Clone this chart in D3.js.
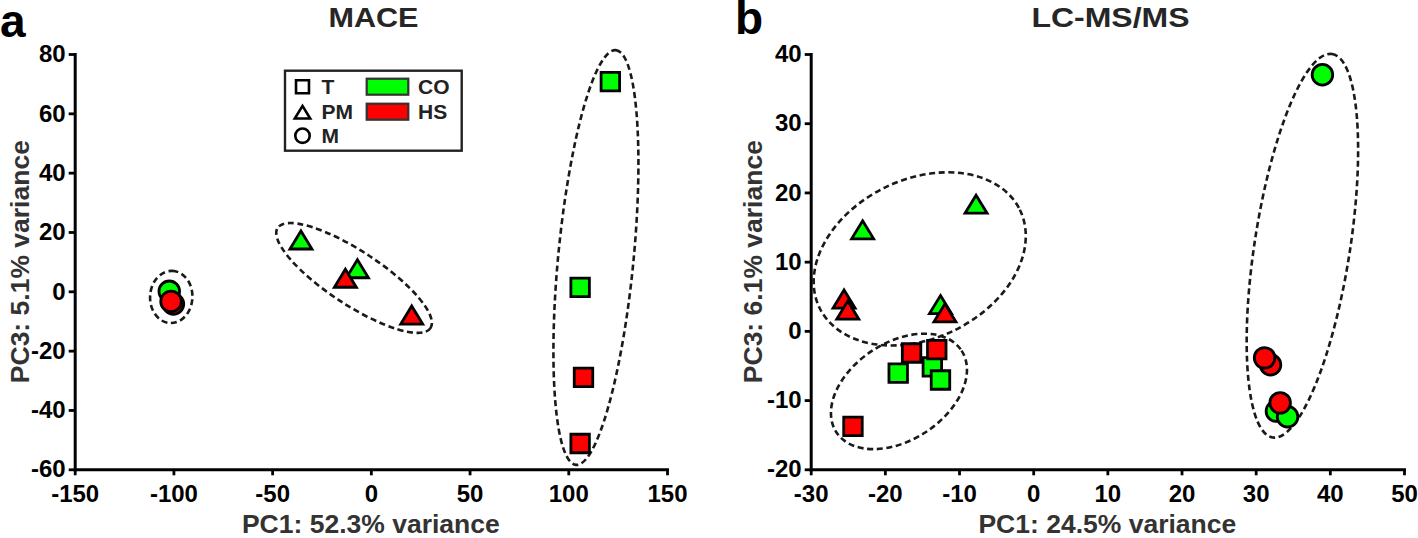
<!DOCTYPE html>
<html><head><meta charset="utf-8">
<script src="https://cdn.jsdelivr.net/npm/d3@7"></script>
<style>
body{margin:0;background:#fff;}
svg{display:block;font-family:"Liberation Sans",Arial,Helvetica,sans-serif;font-weight:bold;}
</style>
</head><body>
<svg id="chart" width="1418" height="538"></svg>
<script>
// ---------- Panel a: MACE ----------
const maceTitle = "MACE";
const maceXLabel = "PC1: 52.3% variance";
const maceYLabel = "PC3: 5.1% variance";
const maceShape = ["T","T","T","T","PM","PM","PM","PM","M","M","M"];
const maceGroup = ["CO","CO","HS","HS","CO","CO","HS","HS","HS","CO","HS"];
const macePC1   = [121.3,106.0,107.7,106.0,-35.4,-6.8,-12.9,20.7,-100.0,-102.1,-101.2];
const macePC3   = [70.7,1.3,-29.0,-51.3,17.3,7.6,4.4,-8.0,-4.3,0.0,-3.4];
const maceXTicks = [-150,-100,-50,0,50,100,150];
const maceYTicks = [-60,-40,-20,0,20,40,60,80];
// cluster ellipses: centre, end of major axis (data units), minor/major ratio
const maceEllCx = [-101.1,-8.5,114.0];
const maceEllCy = [-1.9,4.5,11.4];
const maceEllEx = [-100.5,30.2,124.1];
const maceEllEy = [6.9,-12.4,81.3];
const maceEllRatio = [0.81,0.294,0.181];

// ---------- Panel b: LC-MS/MS ----------
const lcmsTitle = "LC-MS/MS";
const lcmsXLabel = "PC1: 24.5% variance";
const lcmsYLabel = "PC3: 6.1% variance";
const lcmsShape = ["PM","PM","PM","PM","PM","PM","T","T","T","T","T","T","M","M","M","M","M","M"];
const lcmsGroup = ["CO","CO","HS","HS","CO","HS","CO","CO","HS","HS","CO","HS","CO","HS","HS","CO","CO","HS"];
const lcmsPC1   = [-23.0,-7.7,-25.5,-25.0,-12.5,-11.9,-13.6,-18.2,-16.4,-13.0,-12.5,-24.3,39.0,32.0,31.2,32.8,34.3,33.3];
const lcmsPC3   = [14.6,18.3,4.6,3.0,3.8,2.6,-5.2,-6.1,-3.2,-2.7,-7.1,-13.8,37.0,-4.9,-3.9,-11.6,-12.4,-10.4];
const lcmsXTicks = [-30,-20,-10,0,10,20,30,40,50];
const lcmsYTicks = [-20,-10,0,10,20,30,40];
const lcmsEllCx = [-15.3,-18.1,36.3];
const lcmsEllCy = [10.4,-8.75,12.3];
const lcmsEllEx = [-1.8,-9.66,40.3];
const lcmsEllEy = [17.5,-2.85,40.0];
const lcmsEllRatio = [0.712,0.652,0.246];

// legend
const legendShapes = ["T","PM","M"];
const legendGroups = ["CO","HS"];

// ---------- styling ----------
const groupColor = {CO:"#00ff00", HS:"#ff0000"};
const svg = d3.select("#chart");

function shapePath(shape, k){
  k = k || 1;
  if (shape === "T"){ const h = 9.25*k; return `M${-h},${-h}H${h}V${h}H${-h}Z`; }
  if (shape === "PM"){ const w = 11*k, hh = 9*k; return `M0,${-hh}L${w},${hh}L${-w},${hh}Z`; }
  return d3.arc()({innerRadius:0, outerRadius:10.3*k, startAngle:0, endAngle:2*Math.PI});
}

function drawPanel(cfg){
  const x = d3.scaleLinear().domain(cfg.xDomain).range(cfg.xRange);
  const y = d3.scaleLinear().domain(cfg.yDomain).range(cfg.yRange);
  const g = svg.append("g");

  // ellipses
  cfg.ell.cx.forEach((cx, i) => {
    const px = x(cx), py = y(cfg.ell.cy[i]);
    const ex = x(cfg.ell.ex[i]), ey = y(cfg.ell.ey[i]);
    const a = Math.hypot(ex - px, ey - py);
    const ang = Math.atan2(ey - py, ex - px) * 180 / Math.PI;
    g.append("ellipse")
      .attr("cx", px).attr("cy", py)
      .attr("rx", a).attr("ry", a * cfg.ell.ratio[i])
      .attr("transform", `rotate(${ang},${px},${py})`)
      .attr("fill", "none").attr("stroke", "#1a1a1a")
      .attr("stroke-width", 2.6).attr("stroke-dasharray", "6,3.6");
  });

  // axes
  const xAxis = d3.axisBottom(x).tickValues(cfg.xTicks).tickSize(6).tickSizeOuter(0)
      .tickPadding(9.5).tickFormat(d => String(d));
  const yAxis = d3.axisLeft(y).tickValues(cfg.yTicks).tickSize(6).tickSizeOuter(0)
      .tickPadding(3).tickFormat(d => String(d));
  const gx = g.append("g").attr("transform", `translate(0,${cfg.yRange[0]})`).call(xAxis);
  const gy = g.append("g").attr("transform", `translate(${cfg.xRange[0]},0)`).call(yAxis);
  [gx, gy].forEach(ax => {
    ax.select(".domain").attr("stroke", "#000").attr("stroke-width", 3).attr("stroke-linecap", "square");
    ax.selectAll(".tick line").attr("stroke", "#000").attr("stroke-width", 2.8);
    ax.selectAll(".tick text").attr("fill", "#000").attr("font-size", 24)
      .attr("font-family", '"Liberation Sans",Arial,sans-serif').attr("font-weight", "bold");
  });

  // markers
  g.selectAll("path.mark").data(cfg.pc1.map((v, i) => i)).enter().append("path")
    .attr("class", "mark")
    .attr("d", i => shapePath(cfg.shape[i]))
    .attr("transform", i => `translate(${x(cfg.pc1[i])},${y(cfg.pc3[i])})`)
    .attr("fill", i => groupColor[cfg.group[i]])
    .attr("stroke", "#000").attr("stroke-width", 2.8).attr("stroke-linejoin", "miter");

  // titles
  const cxm = (cfg.xRange[0] + cfg.xRange[1]) / 2;
  const cym = (cfg.yRange[0] + cfg.yRange[1]) / 2;
  g.append("text").text(cfg.title).attr("x", cfg.titleX).attr("y", 27)
    .attr("text-anchor", "middle").attr("font-size", 27)
    .attr("textLength", cfg.titleLen).attr("lengthAdjust", "spacingAndGlyphs")
    .attr("fill", "#262626");
  g.append("text").text(cfg.xLabel).attr("x", cxm).attr("y", 532.5)
    .attr("text-anchor", "middle").attr("font-size", 26.5).attr("fill", "#333");
  g.append("text").text(cfg.yLabel)
    .attr("transform", `translate(${cfg.yLabelX},${cym}) rotate(-90)`)
    .attr("text-anchor", "middle").attr("font-size", 26.5).attr("fill", "#333");
  g.append("text").text(cfg.letter).attr("x", cfg.letterX).attr("y", cfg.letterY)
    .attr("font-size", 46).attr("fill", "#000");
  return {x, y, g};
}

drawPanel({
  xDomain:[-150,150], yDomain:[-60,80], xRange:[74.7,667], yRange:[469.3,54],
  xTicks:maceXTicks, yTicks:maceYTicks,
  pc1:macePC1, pc3:macePC3, shape:maceShape, group:maceGroup,
  ell:{cx:maceEllCx, cy:maceEllCy, ex:maceEllEx, ey:maceEllEy, ratio:maceEllRatio},
  title:maceTitle, titleX:373.5, titleLen:90, xLabel:maceXLabel, yLabel:maceYLabel, yLabelX:29,
  letter:"a", letterX:0, letterY:37
});

drawPanel({
  xDomain:[-30,50], yDomain:[-20,40], xRange:[810.7,1404], yRange:[469.3,54],
  xTicks:lcmsXTicks, yTicks:lcmsYTicks,
  pc1:lcmsPC1, pc3:lcmsPC3, shape:lcmsShape, group:lcmsGroup,
  ell:{cx:lcmsEllCx, cy:lcmsEllCy, ex:lcmsEllEx, ey:lcmsEllEy, ratio:lcmsEllRatio},
  title:lcmsTitle, titleX:1110.5, titleLen:158, xLabel:lcmsXLabel, yLabel:lcmsYLabel, yLabelX:762,
  letter:"b", letterX:735, letterY:34
});

// legend (panel a)
const lg = svg.append("g").attr("transform", "translate(285,70.7)");
lg.append("rect").attr("width", 176.7).attr("height", 80)
  .attr("fill", "#fff").attr("stroke", "#222").attr("stroke-width", 2.4);
const rowY = [16, 40.5, 65];
legendShapes.forEach((s, i) => {
  lg.append("path").attr("d", shapePath(s, 0.7))
    .attr("transform", `translate(17.5,${rowY[i] + (s === "PM" ? 1 : 0)})`)
    .attr("fill", "#fff").attr("stroke", "#000").attr("stroke-width", 2.6);
  lg.append("text").text(s).attr("x", 36.5).attr("y", rowY[i] + 7.5)
    .attr("font-size", 21).attr("fill", "#222");
});
legendGroups.forEach((gname, i) => {
  lg.append("rect").attr("x", 81.7).attr("y", rowY[i] - 8 + (i ? 0.5 : 0))
    .attr("width", 41.6).attr("height", 16)
    .attr("fill", groupColor[gname]).attr("stroke", "#333").attr("stroke-width", 2.2);
  lg.append("text").text(gname).attr("x", 133).attr("y", rowY[i] + 7.5)
    .attr("font-size", 21).attr("fill", "#222");
});
</script>
</body></html>
